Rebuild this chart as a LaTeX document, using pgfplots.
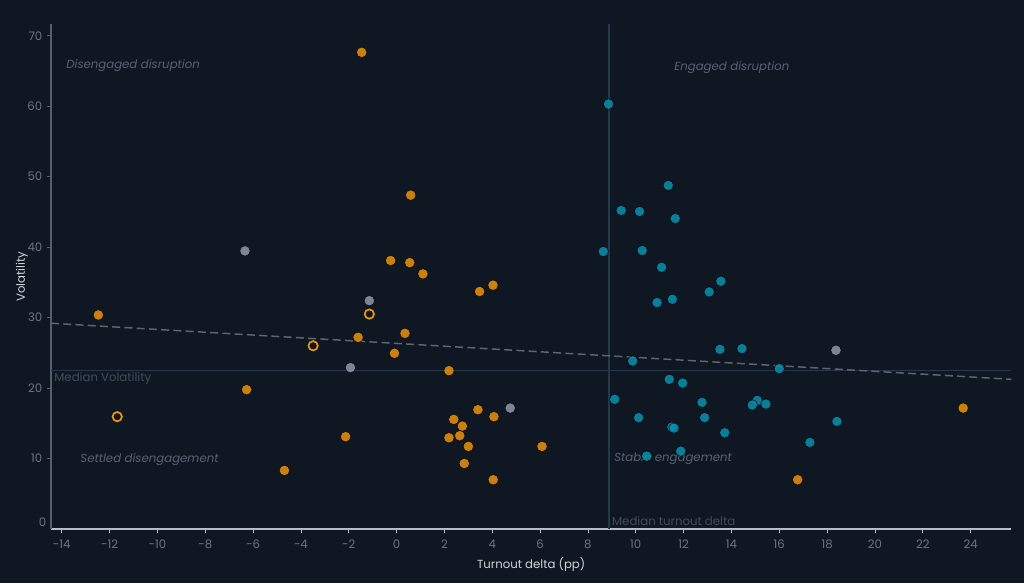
\documentclass[border=0pt]{standalone}
\usepackage{fontspec}
\setmainfont{Poppins}
\usepackage{pgfplots}
\pgfplotsset{compat=1.18}
\usepackage{pgfplotstable}
\definecolor{bgc}{HTML}{0F1822}
\definecolor{orangec}{HTML}{EA930F}
\definecolor{tealc}{HTML}{0A8FAE}
\definecolor{grayc}{HTML}{9099AA}
\definecolor{axisx}{HTML}{B8BDC4}
\definecolor{axisy}{HTML}{555E6A}
\definecolor{tickc}{HTML}{6B7480}
\definecolor{labc}{HTML}{D0D4D9}
\definecolor{annc}{HTML}{566273}
\definecolor{medc}{HTML}{27374A}
\definecolor{medtxt}{HTML}{414C5A}
\definecolor{trendc}{HTML}{5C6672}

\pgfplotstableread{
x y
-1.46 67.64
0.59 47.37
-0.25 38.1
0.55 37.8
1.10 36.2
3.47 33.7
4.03 34.6
-12.47 30.37
-1.61 27.2
0.35 27.77
-0.09 24.93
2.19 22.47
-6.27 19.77
-2.13 13.1
-4.69 8.31
3.40 16.93
4.07 15.94
2.39 15.55
2.75 14.6
2.19 12.95
2.64 13.24
3.0 11.72
2.83 9.3
4.04 6.99
6.08 11.72
16.77 6.99
23.69 17.16
}\orangefilled

\pgfplotstableread{
x y
-1.14 30.5
-3.49 26.0
-11.68 15.94
}\orangehollow

\pgfplotstableread{
x y
-6.34 39.46
-1.14 32.4
-1.93 22.9
4.75 17.16
18.37 25.36
}\grayset

\pgfplotstableread{
x y
8.86 60.3
11.36 48.75
9.39 45.2
10.16 45.06
11.65 44.06
8.64 39.38
10.27 39.52
11.08 37.14
13.56 35.16
13.07 33.64
11.53 32.6
10.89 32.13
13.52 25.5
14.44 25.6
9.87 23.84
16.0 22.75
11.4 21.24
11.96 20.71
9.12 18.4
12.77 17.97
15.08 18.25
14.87 17.59
15.44 17.73
10.12 15.8
12.88 15.8
18.41 15.27
11.51 14.46
11.6 14.32
13.72 13.66
17.28 12.29
11.88 11.05
10.46 10.34
}\tealset

\begin{document}
\begin{tikzpicture}
\fill[bgc] (-38.25pt,-40.5pt) rectangle (729.75pt,396.75pt);
\path[use as bounding box] (-38.25pt,-40.5pt) rectangle (729.75pt,396.75pt);
\begin{axis}[
  at={(0pt,0pt)}, anchor=south west,
  scale only axis, width=720.2pt, height=378.75pt,
  xmin=-14.45, xmax=25.7, ymin=0, ymax=71.66,
  axis lines=left, axis line style={-},
  x axis line style={color=axisx, line width=0.8pt},
  y axis line style={color=axisy, line width=0.8pt},
  xtick={-14,-12,...,24}, ytick={10,20,...,70},
  extra y ticks={0},
  extra y tick style={major tick length=0pt, tick label style={yshift=5pt}},
  tick align=outside, major tick length=3pt,
  x tick style={color=axisx, line width=0.6pt},
  y tick style={color=axisy, line width=0.6pt},
  ticklabel style={font=\fontsize{8.8}{10}\selectfont, color=tickc},
  xticklabel style={yshift=-1.5pt},
  /pgf/number format/assume math mode=true,
  xlabel={Turnout delta (pp)}, ylabel={Volatility},
  label style={font=\fontsize{8.8}{10}\selectfont, color=labc},
  xlabel style={at={(axis description cs:0.5,-0.0713)}, anchor=center},
  ylabel style={at={(axis description cs:-0.0302,0.5)}, anchor=center},
  clip=false,
]
\addplot[medc, line width=0.9pt, forget plot] coordinates {(-14.45,22.47) (25.7,22.47)};
\addplot[medc, line width=0.9pt, forget plot] coordinates {(8.88,0) (8.88,71.66)};
\addplot[trendc, line width=1.1pt, dash pattern=on 6pt off 3.2pt, forget plot] coordinates {(-14.45,29.2) (25.7,21.24)};

\addplot[only marks, mark=*, mark size=3.9pt, opacity=0.85, mark options={draw=none, fill=orangec}] table {\orangefilled};
\addplot[only marks, mark=o, mark size=3.5pt, mark options={draw=orangec, line width=1.3pt, fill=none}] table {\orangehollow};
\addplot[only marks, mark=*, mark size=3.9pt, opacity=0.85, mark options={draw=none, fill=grayc}] table {\grayset};
\addplot[only marks, mark=*, mark size=3.9pt, opacity=0.85, mark options={draw=none, fill=tealc}] table {\tealset};

\node[anchor=west, font=\itshape\fontsize{8.8}{10}\selectfont, color=annc, inner sep=0pt] at (axis cs:-13.82,65.7) {Disengaged disruption};
\node[anchor=west, font=\itshape\fontsize{8.8}{10}\selectfont, color=annc, inner sep=0pt] at (axis cs:11.6,65.5) {Engaged disruption};
\node[anchor=west, font=\itshape\fontsize{8.8}{10}\selectfont, color=annc, inner sep=0pt] at (axis cs:-13.23,9.87) {Settled disengagement};
\node[anchor=west, font=\itshape\fontsize{8.8}{10}\selectfont, color=annc, inner sep=0pt] at (axis cs:9.09,9.9) {Stable engagement};
\node[anchor=west, font=\fontsize{8.8}{10}\selectfont, color=medtxt, inner sep=0pt] at (axis cs:-14.32,21.4) {Median Volatility};
\node[anchor=west, font=\fontsize{8.8}{10}\selectfont, color=medtxt, inner sep=0pt] at (axis cs:9.0,1.1) {Median turnout delta};
\end{axis}
\end{tikzpicture}
\end{document}
